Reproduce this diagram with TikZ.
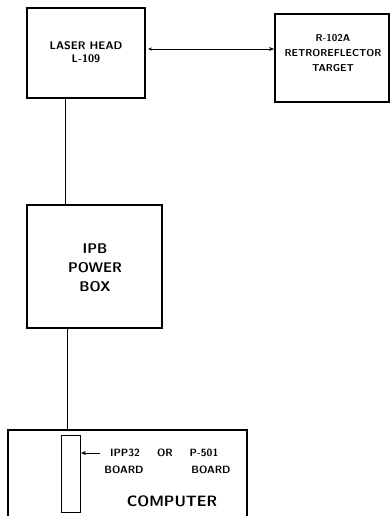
\documentclass[tikz,border=0pt]{standalone}
\usetikzlibrary{arrows.meta}
\begin{document}
\begin{tikzpicture}[x=1pt,y=-1pt,
  box/.style={draw,line width=1.2pt},
  conn/.style={line width=0.8pt},
  lbl/.style={inner sep=0pt,align=center}]
\useasboundingbox (0,0) rectangle (390,516);
% boxes
\draw[box] (27,8) rectangle (145,98);
\coordinate (lhl) at (65,98); \coordinate (lhr) at (145,49);
\draw[box] (275,14) rectangle (389,102);
\coordinate (rtl) at (275,49);
\draw[box] (27,205) rectangle (162,328);
\coordinate (pbt) at (65,205); \coordinate (pbb) at (67,328);
\draw[box] (8,516) -- (8,430) -- (247,430) -- (247,516);
\coordinate (cpt) at (67,430);
\draw[line width=1pt] (61,435) rectangle (80,512);
\coordinate (brd) at (80,453);
% labels
\node[lbl,font=\sffamily\bfseries\fontsize{11}{13}\selectfont] (lh) at (86,52) {LASER HEAD\\L-109};
\node[lbl,font=\sffamily\bfseries\fontsize{10}{15}\selectfont] (rt) at (333,53) {R-102A\\RETROREFLECTOR\\TARGET};
\node[lbl,font=\sffamily\bfseries\fontsize{14}{19}\selectfont] (pb) at (95,268) {IPB\\POWER\\BOX};
\node[lbl,font=\sffamily\bfseries\fontsize{15}{16}\selectfont] (cp) at (172,501) {COMPUTER};
\node[lbl,font=\sffamily\bfseries\fontsize{10.5}{11}\selectfont] (ip) at (125,453) {IPP32};
\node[lbl,font=\sffamily\bfseries\fontsize{10.5}{11}\selectfont] (or) at (165,453) {OR};
\node[lbl,font=\sffamily\bfseries\fontsize{10.5}{11}\selectfont] (p5) at (204,453) {P-501};
\node[lbl,font=\sffamily\bfseries\fontsize{10.5}{11}\selectfont] (b1) at (124,470) {BOARD};
\node[lbl,font=\sffamily\bfseries\fontsize{10.5}{11}\selectfont] (b2) at (211,470) {BOARD};
% connectors
\draw[conn,{Stealth[length=4pt,width=3pt]}-{Stealth[length=5pt,width=4pt]}] ([xshift=3pt]lhr) -- ([xshift=-1pt]rtl);
\draw[conn] (lhl) -- (pbt);
\draw[conn] (pbb) -- (cpt);
\draw[conn,-{Stealth[length=5pt,width=4pt]}] ([xshift=20pt]brd) -- ([xshift=1pt]brd);
\end{tikzpicture}
\end{document}
